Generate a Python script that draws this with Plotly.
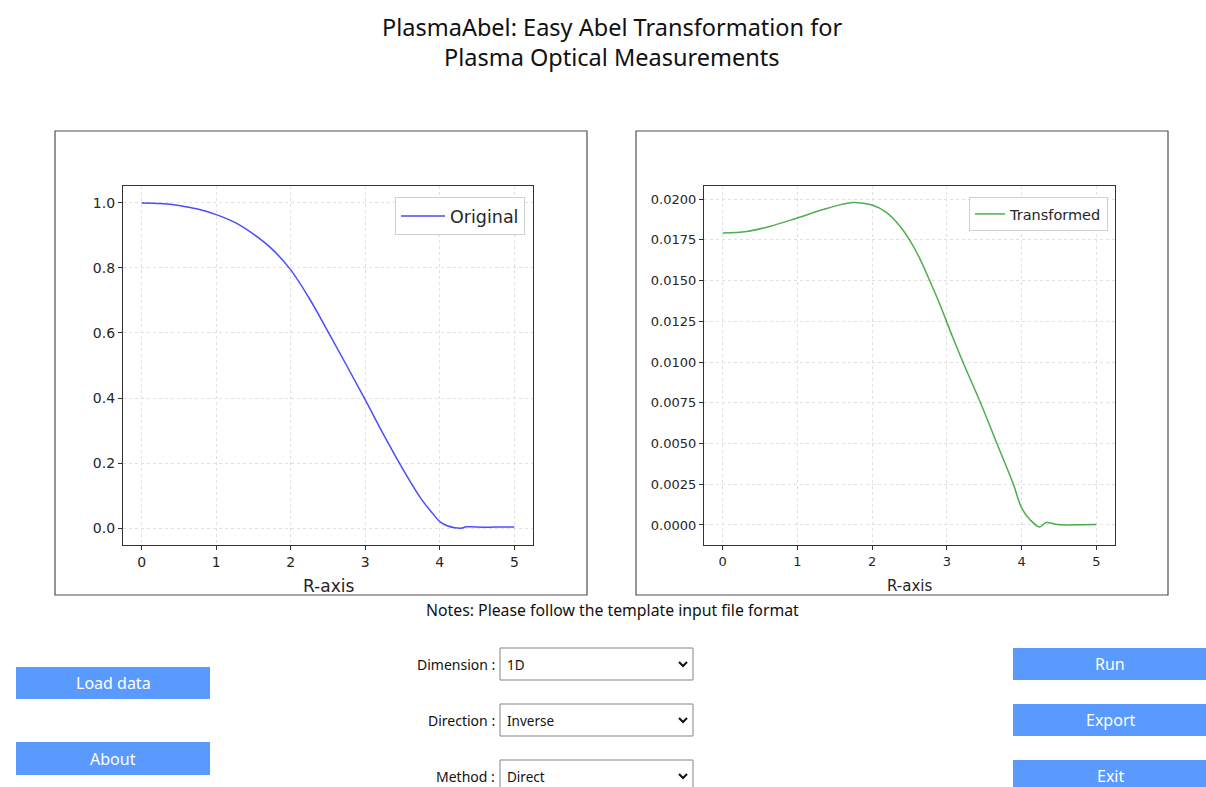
import plotly.graph_objects as go

W, H = 1206, 787

# ---- data ----
r_orig = [0, 0.25, 0.5, 0.75, 1.0, 1.25, 1.5, 1.75, 2.0, 2.25, 2.5, 2.75, 3.0,
          3.25, 3.5, 3.75, 3.9, 4.0, 4.1, 4.2, 4.3, 4.35, 4.5, 4.75, 5.0]
orig = [1.0, 0.998, 0.992, 0.981, 0.964, 0.940, 0.904, 0.858, 0.794, 0.706, 0.604,
        0.500, 0.394, 0.286, 0.183, 0.090, 0.046, 0.020, 0.007, 0.001, 0.0, 0.004,
        0.003, 0.003, 0.003]

r_trans = [0, 0.32, 0.63, 1.0, 1.39, 1.74, 2.0, 2.19, 2.37, 2.5, 2.63, 2.77, 2.9,
           3.08, 3.21, 3.45, 3.67, 3.89, 4.0, 4.11, 4.24, 4.33, 4.45, 4.58, 4.8, 5.0]
trans = [0.01792, 0.01801, 0.01832, 0.01884, 0.01942, 0.01979, 0.01963, 0.01918,
         0.01835, 0.0175, 0.01642, 0.0150, 0.01360, 0.01150, 0.01005, 0.0075,
         0.0050, 0.0025, 0.00105, 0.00034, -0.00012, 0.00015, 0.00005, 0.0,
         0.00002, 0.00003]

x_ticks = [0, 1, 2, 3, 4, 5]
y_ticks_left = [0.0, 0.2, 0.4, 0.6, 0.8, 1.0]
y_ticks_right = [0.0, 0.0025, 0.005, 0.0075, 0.01, 0.0125, 0.015, 0.0175, 0.02]

title_lines = ["PlasmaAbel: Easy Abel Transformation for", "Plasma Optical Measurements"]
note_text = "Notes: Please follow the template input file format"
left_buttons = ["Load data", "About"]
right_buttons = ["Run", "Export", "Exit"]
select_labels = ["Dimension :", "Direction :", "Method :"]
select_values = ["1D", "Inverse", "Direct"]


def px(x):
    return x / W


def py(y):
    return 1 - y / H


fig = go.Figure()
fig.add_trace(go.Scatter(x=r_orig, y=orig, mode="lines", name="Original",
                         line=dict(color="rgba(0,0,255,0.7)", width=1.5, shape="spline", smoothing=1.0),
                         xaxis="x", yaxis="y", legend="legend"))
fig.add_trace(go.Scatter(x=r_trans, y=trans, mode="lines", name="Transformed",
                         line=dict(color="rgba(0,140,0,0.7)", width=1.5, shape="spline", smoothing=1.0),
                         xaxis="x2", yaxis="y2", legend="legend2"))

common = dict(showline=True, mirror=True, linecolor="#333333", linewidth=1.2,
              ticks="outside", ticklen=4, tickcolor="#333333",
              showgrid=True, gridcolor="#e0e0e0", griddash="dot", gridwidth=1,
              zeroline=False, fixedrange=True)
font_l = dict(family="DejaVu Sans", size=14, color="#262626")
font_r = dict(family="DejaVu Sans", size=13, color="#262626")

y_dom = [py(545), py(186)]
fig.update_layout(
    width=W, height=H, margin=dict(l=0, r=0, t=0, b=0),
    paper_bgcolor="white", plot_bgcolor="white",
    xaxis=dict(domain=[px(123), px(533)], range=[-0.25, 5.25], tickvals=x_ticks, anchor="y",
               tickfont=font_l, **common),
    yaxis=dict(domain=y_dom, range=[-0.052, 1.052], tickvals=y_ticks_left, tickformat=".1f", anchor="x",
               tickfont=font_l, **common),
    xaxis2=dict(domain=[px(704), px(1115)], range=[-0.25, 5.25], tickvals=x_ticks, anchor="y2",
                tickfont=font_r, **common),
    yaxis2=dict(domain=y_dom, range=[-0.00123, 0.0208], tickvals=y_ticks_right, tickformat=".4f", anchor="x2",
                tickfont=font_r, **common),
    legend=dict(x=px(525), y=py(197), xanchor="right", yanchor="top", xref="paper", yref="paper",
                bgcolor="rgba(255,255,255,0.85)", bordercolor="#d0d0d0", borderwidth=1,
                font=dict(family="DejaVu Sans", size=17.5, color="#262626"), itemwidth=44),
    legend2=dict(x=px(1108), y=py(197), xanchor="right", yanchor="top", xref="paper", yref="paper",
                 bgcolor="rgba(255,255,255,0.85)", bordercolor="#d0d0d0", borderwidth=1,
                 font=dict(family="DejaVu Sans", size=14.5, color="#262626"), itemwidth=30),
    showlegend=True,
)

shapes = []
annotations = []


def text(t, x, y, size, color="#111111", family="Noto Sans", xanchor="center"):
    annotations.append(dict(text=t, x=px(x), y=py(y), xref="paper", yref="paper",
                            showarrow=False, xanchor=xanchor, yanchor="middle",
                            font=dict(family=family, size=size, color=color)))


# panel frames
for x0, x1 in [(55, 587), (636, 1168)]:
    shapes.append(dict(type="rect", xref="paper", yref="paper", x0=px(x0), x1=px(x1),
                       y0=py(595), y1=py(131), line=dict(color="#505050", width=1.2),
                       fillcolor="rgba(0,0,0,0)", layer="below"))

# axis titles
text("R-axis", 328, 586, 17, color="#262626", family="DejaVu Sans")
text("R-axis", 909, 586, 15, color="#262626", family="DejaVu Sans")

# title
for i, line in enumerate(title_lines):
    text(line, 612, 27 + 30 * i, 23.5)

text(note_text, 612, 610, 15.8)

btn_color = "#5a9aff"
for label, (y0, y1) in zip(left_buttons, [(667, 699), (742, 775)]):
    shapes.append(dict(type="rect", xref="paper", yref="paper", x0=px(16), x1=px(210),
                       y0=py(y1), y1=py(y0), line=dict(width=0), fillcolor=btn_color))
    text(label, 113, (y0 + y1) / 2, 16, color="white")
for label, (y0, y1) in zip(right_buttons, [(648, 680), (704, 736), (760, 792)]):
    shapes.append(dict(type="rect", xref="paper", yref="paper", x0=px(1013), x1=px(1206),
                       y0=py(y1), y1=py(y0), line=dict(width=0), fillcolor=btn_color))
    text(label, 1110, (y0 + y1) / 2, 16, color="white")

# select boxes
for lab, val, (y0, y1) in zip(select_labels, select_values, [(648, 680), (704, 736), (760, 792)]):
    shapes.append(dict(type="rect", xref="paper", yref="paper", x0=px(500), x1=px(693),
                       y0=py(y1), y1=py(y0), line=dict(color="#858585", width=1), fillcolor="white"))
    cy = (y0 + y1) / 2
    shapes.append(dict(type="path", xref="paper", yref="paper",
                       path=f"M {px(679)} {py(cy - 2)} L {px(683)} {py(cy + 2)} L {px(687)} {py(cy - 2)}",
                       line=dict(color="#111111", width=2)))
    text(lab, 497, cy, 14, xanchor="right")
    text(val, 505, cy + 1, 13.5, xanchor="left")

fig.update_layout(shapes=shapes, annotations=annotations)
fig.write_html("out.html", config=dict(displayModeBar=False),
               post_script="document.body.style.margin='0px';document.body.style.padding='0px';")
